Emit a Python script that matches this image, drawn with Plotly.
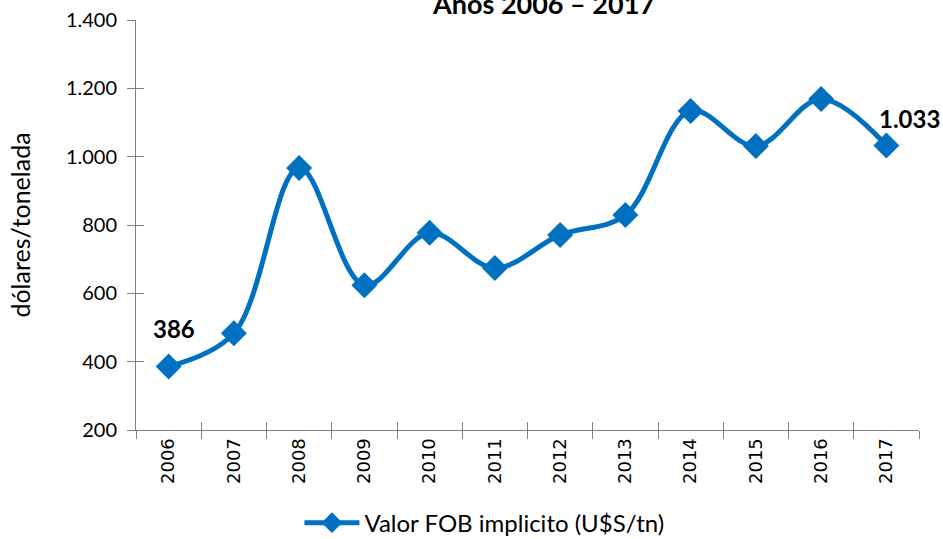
import plotly.graph_objects as go

# ── Data ──────────────────────────────────────────────────────────────────────
YEARS = ["2006", "2007", "2008", "2009", "2010", "2011",
         "2012", "2013", "2014", "2015", "2016", "2017"]
FOB_VALUE = [386, 483, 967, 624, 777, 674, 771, 829, 1134, 1031, 1169, 1033]
Y_TICKS = [200, 400, 600, 800, 1000, 1200, 1400]

BLUE = "#0070C0"
AXIS = "#808080"
FONT = "Lato, Open Sans, sans-serif"
X_RANGE = [-0.5, len(YEARS) - 0.5]

fig = go.Figure()

fig.add_trace(go.Scatter(
    x=YEARS, y=FOB_VALUE,
    mode="lines+markers",
    name="Valor FOB implicito (U$S/tn)",
    line=dict(color=BLUE, width=5, shape="spline", smoothing=1.0),
    marker=dict(symbol="diamond", size=20, color=BLUE),
))

# invisible helper trace so the overlay axes (inside half of crossing ticks) render
fig.add_trace(go.Scatter(
    x=YEARS, y=FOB_VALUE, xaxis="x2", yaxis="y2",
    mode="markers", marker=dict(opacity=0), showlegend=False, hoverinfo="skip",
))

# data labels on first and last point (category axis -> use index positions)
fig.add_annotation(x=0, y=FOB_VALUE[0], text=f"<b>{FOB_VALUE[0]}</b>",
                   showarrow=False, xshift=5, yshift=38,
                   font=dict(family=FONT, size=24, color="black"))
fig.add_annotation(x=len(YEARS) - 1, y=FOB_VALUE[-1],
                   text="<b>" + f"{FOB_VALUE[-1]:,}".replace(",", ".") + "</b>",
                   showarrow=False, xshift=23, yshift=27,
                   font=dict(family=FONT, size=24, color="black"))

# title (top line clipped like the original)
fig.add_annotation(x=0.52, xref="paper", y=1.0, yref="paper", yshift=35,
                   text="<b>Años 2006 – 2017</b>", showarrow=False,
                   font=dict(family=FONT, size=27, color="black"))

fig.update_layout(
    width=943, height=539,
    paper_bgcolor="white", plot_bgcolor="white",
    margin=dict(l=136, r=24, t=20, b=109, autoexpand=False),
    separators=",.",
    font=dict(family=FONT, size=20, color="black"),
    showlegend=True,
    legend=dict(orientation="h", x=0.445, xanchor="center", y=-0.227, yanchor="middle",
                font=dict(size=24), itemwidth=55, bgcolor="rgba(0,0,0,0)"),
    xaxis=dict(
        type="category", categoryorder="array", categoryarray=YEARS, range=X_RANGE,
        tickson="boundaries", ticks="outside", ticklen=8, tickcolor=AXIS,
        showline=True, linecolor=AXIS, linewidth=1, showgrid=False,
        tickangle=-90, tickfont=dict(family="DejaVu Sans", size=18),
        zeroline=False, automargin=False,
    ),
    yaxis=dict(
        range=[200, 1400], tickvals=Y_TICKS, tickformat=",d",
        ticks="outside", ticklen=8, tickcolor=AXIS, ticklabelstandoff=6,
        showline=True, linecolor=AXIS, linewidth=1, showgrid=False, zeroline=False,
        title=dict(text="dólares/tonelada", font=dict(size=25), standoff=28),
        tickfont=dict(size=20), automargin=False,
    ),
    xaxis2=dict(
        type="category", categoryorder="array", categoryarray=YEARS, range=X_RANGE,
        overlaying="x", side="bottom", tickson="boundaries",
        ticks="inside", ticklen=8, tickcolor=AXIS,
        showticklabels=False, showgrid=False, showline=False, zeroline=False,
    ),
    yaxis2=dict(
        overlaying="y", range=[200, 1400], tickvals=Y_TICKS,
        ticks="inside", ticklen=8, tickcolor=AXIS,
        showticklabels=False, showgrid=False, showline=False, zeroline=False,
    ),
)

fig.write_html("out.html", config={"displayModeBar": False},
               post_script="document.body.style.margin='0';")
